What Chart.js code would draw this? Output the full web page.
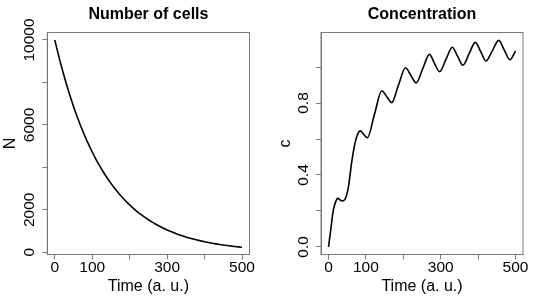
<!DOCTYPE html>
<html>
<head>
<meta charset="utf-8">
<script src="https://cdn.jsdelivr.net/npm/chart.js@4.4.0/dist/chart.umd.min.js"></script>
<style>
  html, body { margin: 0; padding: 0; background: #fff; }
  #wrap { position: relative; width: 536px; height: 301px; }
  canvas { position: absolute; top: 0; }
</style>
</head>
<body>
<div id="wrap">
  <canvas id="cells" width="268" height="301" style="left:0"></canvas>
  <canvas id="conc" width="268" height="301" style="left:268px"></canvas>
</div>
<script>
// Values
const cellTime = [0, 10, 20, 30, 40, 50, 60, 70, 80, 90, 100, 110, 120, 130, 140, 150, 160, 170, 180, 190, 200,
  210, 220, 230, 240, 250, 260, 270, 280, 290, 300, 310, 320, 330, 340, 350, 360, 370, 380, 390, 400,
  410, 420, 430, 440, 450, 460, 470, 480, 490, 500];
const cellCount = [10000, 9277, 8607, 7985, 7408, 6873, 6376, 5916, 5488, 5092, 4724, 4382, 4066, 3772, 3499, 3247, 3012, 2794, 2592, 2405, 2231,
  2070, 1920, 1782, 1653, 1534, 1423, 1320, 1225, 1136, 1054, 978, 907, 842, 781, 725, 672, 624, 579, 537, 498,
  462, 429, 398, 369, 342, 318, 295, 273, 254, 235];

const concTime = [0, 6, 13, 19.5, 24, 36, 44, 53, 62, 69, 76, 85, 94, 104, 123, 142.5, 156, 169, 187, 206,
  220, 234.5, 252, 270, 283, 297, 314, 331, 345, 359.5, 376, 392.5, 407, 421, 438, 455, 470, 485, 500];
const concValue = [0, 0.095, 0.206, 0.252, 0.27, 0.256, 0.265, 0.33, 0.47, 0.557, 0.615, 0.645, 0.626, 0.607, 0.737, 0.868, 0.835, 0.802, 0.899, 0.996,
  0.954, 0.912, 0.991, 1.07, 1.022, 0.974, 1.042, 1.11, 1.06, 1.01, 1.074, 1.137, 1.085, 1.033, 1.09, 1.148, 1.094, 1.04, 1.089];

// Ticks (R leaves out labels that would overlap)
const xTicks = [0, 100, 200, 300, 400, 500];
const xTickLabels = ['0', '100', '', '300', '', '500'];
const cellTicks = [0, 2000, 4000, 6000, 8000, 10000];
const cellTickLabels = ['0', '2000', '', '6000', '', '10000'];
const concTicks = [0, 0.2, 0.4, 0.6, 0.8, 1.0];
const concTickLabels = ['0.0', '', '0.4', '', '0.8', ''];

const FONT = '"Liberation Sans", Arial, Helvetica, sans-serif';
const GREY = '#7a7a7a';

// box round the plot region, like R's box()
const boxPlugin = {
  id: 'box',
  afterDraw(chart) {
    const a = chart.chartArea, ctx = chart.ctx;
    ctx.save();
    ctx.strokeStyle = GREY;
    ctx.lineWidth = 1;
    ctx.strokeRect(a.left, a.top, a.right - a.left, a.bottom - a.top);
    ctx.restore();
  }
};

function panel(id, p) {
  const points = p.xs.map((x, i) => ({ x: x, y: p.ys[i] }));
  return new Chart(document.getElementById(id), {
    type: 'line',
    data: {
      datasets: [{
        data: points,
        borderColor: '#000',
        borderWidth: 1.6,
        pointRadius: 0,
        fill: false,
        cubicInterpolationMode: 'monotone'
      }]
    },
    options: {
      responsive: false,
      animation: false,
      layout: { padding: { left: 0, right: p.padRight, top: 0, bottom: 0 } },
      plugins: {
        legend: { display: false },
        tooltip: { enabled: false },
        title: {
          display: true,
          text: p.title,
          color: '#000',
          fullSize: false,
          font: { family: FONT, size: 16, weight: 'bold' },
          padding: { top: 4.8, bottom: 8.5 }
        }
      },
      scales: {
        x: {
          type: 'linear',
          min: -20,
          max: 520,
          afterBuildTicks: s => { s.ticks = xTicks.map(v => ({ value: v })); },
          afterFit: s => { s.height = 46.5; },
          grid: { drawOnChartArea: false, drawTicks: true, tickLength: 5, color: GREY },
          border: { display: true, color: GREY },
          ticks: {
            autoSkip: false,
            maxRotation: 0,
            padding: -1,
            color: '#000',
            font: { family: FONT, size: 15.5 },
            callback: (v, i) => xTickLabels[i]
          },
          title: {
            display: true,
            text: 'Time (a. u.)',
            color: '#000',
            font: { family: FONT, size: 16 },
            padding: { top: 0, bottom: 4.5 }
          }
        },
        y: {
          type: 'linear',
          min: p.yMin,
          max: p.yMax,
          afterBuildTicks: s => { s.ticks = p.yTicks.map(v => ({ value: v })); },
          afterFit: s => { s.width = p.yWidth; },
          grid: { drawOnChartArea: false, drawTicks: true, tickLength: 5, color: GREY },
          border: { display: true, color: GREY },
          ticks: {
            autoSkip: false,
            minRotation: 90,
            maxRotation: 90,
            crossAlign: 'center',
            padding: p.tickPad,
            color: '#000',
            font: { family: FONT, size: 15.5 },
            callback: (v, i) => p.yLabels[i]
          },
          title: {
            display: true,
            text: p.yTitle,
            color: '#000',
            font: { family: FONT, size: 16 },
            padding: { top: p.titlePad, bottom: 0 }
          }
        }
      }
    },
    plugins: [boxPlugin]
  });
}

panel('cells', {
  title: 'Number of cells', xs: cellTime, ys: cellCount,
  yMin: -104, yMax: 10353, yTicks: cellTicks, yLabels: cellTickLabels,
  yTitle: 'N', yWidth: 47.3, padRight: 18.5, tickPad: -8.9, titlePad: 0.9
});

panel('conc', {
  title: 'Concentration', xs: concTime, ys: concValue,
  yMin: -0.0417, yMax: 1.1917, yTicks: concTicks, yLabels: concTickLabels,
  yTitle: 'c', yWidth: 53, padRight: 13, tickPad: 1.9, titlePad: 8.15
});
</script>
</body>
</html>
